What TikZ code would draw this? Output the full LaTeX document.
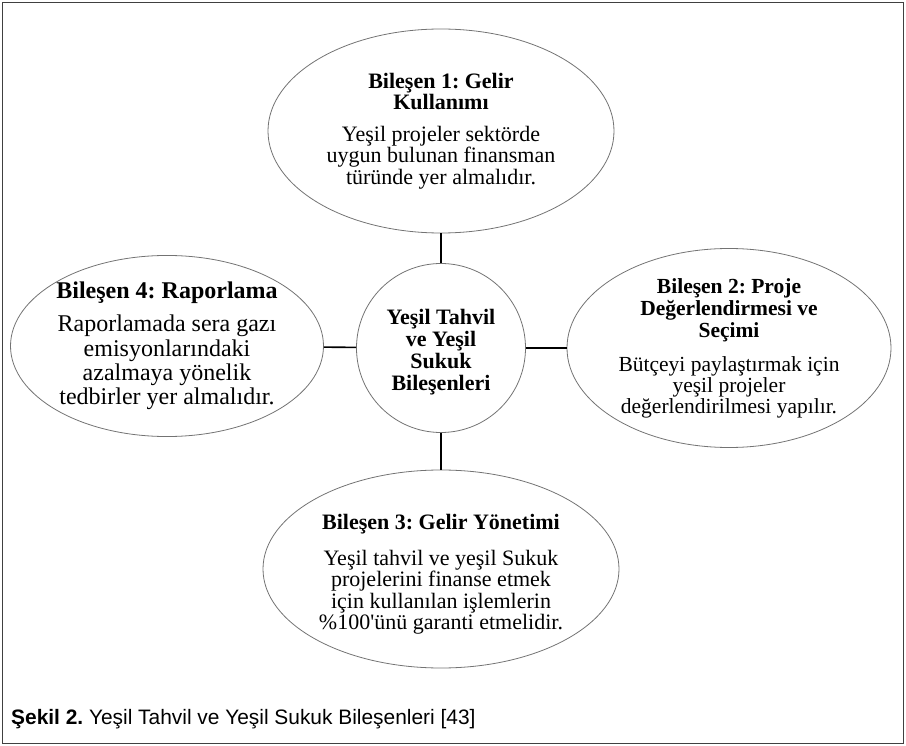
\documentclass[tikz,border=0pt]{standalone}
\usepackage{fontspec}
\setmainfont{Liberation Serif}
\newfontfamily\capfont{Liberation Sans}
\usetikzlibrary{shapes.geometric}
\frenchspacing

\tikzset{
  comp/.style={ellipse, draw=black!55, line width=0.8pt, inner sep=0pt, align=center},
  link/.style={line width=1.6pt}
}

\begin{document}
\begin{tikzpicture}[x=1pt, y=-1pt]
            \useasboundingbox (0,0) rectangle (906,746);
            \draw[line width=1pt, black!75] (2.5,2.5) rectangle (903.5,743.5);

            \node[comp, minimum width=346pt, minimum height=204pt, font=\fontsize{22}{21.5}\selectfont] (gelir) at (441,131)
                {\textbf{Bileşen 1: Gelir}\\ \textbf{Kullanımı}\\[10pt] Yeşil projeler sektörde\\ uygun bulunan finansman\\ türünde yer almalıdır.};
            \node[comp, minimum width=169pt, minimum height=169pt, font=\fontsize{22}{22}\selectfont] (hub) at (441,348)
                {\rule{0pt}{24pt}\textbf{Yeşil Tahvil}\\ \textbf{ve Yeşil}\\ \textbf{Sukuk}\\ \textbf{Bileşenleri}};
            \node[comp, minimum width=304pt, minimum height=162pt, font=\fontsize{24}{24.3}\selectfont] (rapor) at (167,346)
                {\textbf{Bileşen 4: Raporlama}\\[9pt] Raporlamada sera gazı\\ emisyonlarındaki\\ azalmaya yönelik\\ tedbirler yer almalıdır.};
            \node[comp, minimum width=324pt, minimum height=199pt, font=\fontsize{21.5}{22}\selectfont] (proje) at (729,348)
                {\textbf{Bileşen 2: Proje}\\ \textbf{Değerlendirmesi ve}\\ \textbf{Seçimi}\\[12pt] Bütçeyi paylaştırmak için\\[-1pt] yeşil projeler\\[-1pt] değerlendirilmesi yapılır.};
            \node[comp, minimum width=356pt, minimum height=198pt, font=\fontsize{22}{21.5}\selectfont] (yonetim) at (441,569)
                {\rule{0pt}{26pt}\textbf{Bileşen 3: Gelir Yönetimi}\\[14pt] Yeşil tahvil ve yeşil Sukuk\\ projelerini finanse etmek\\ için kullanılan işlemlerin\\ \%100\textquotesingle ünü garanti etmelidir.};

            \draw[link] (hub) -- (gelir);
            \draw[link] (hub) -- (proje);
            \draw[link] (hub) -- (yonetim);
            \draw[link] (hub) -- (rapor);

            \node[anchor=base west, inner sep=0pt, font=\capfont\fontsize{20.9}{24}\selectfont] (cap) at (11,724)
                {\textbf{Şekil 2.} Yeşil Tahvil ve Yeşil Sukuk Bileşenleri [43]};
        \end{tikzpicture}
\end{document}
